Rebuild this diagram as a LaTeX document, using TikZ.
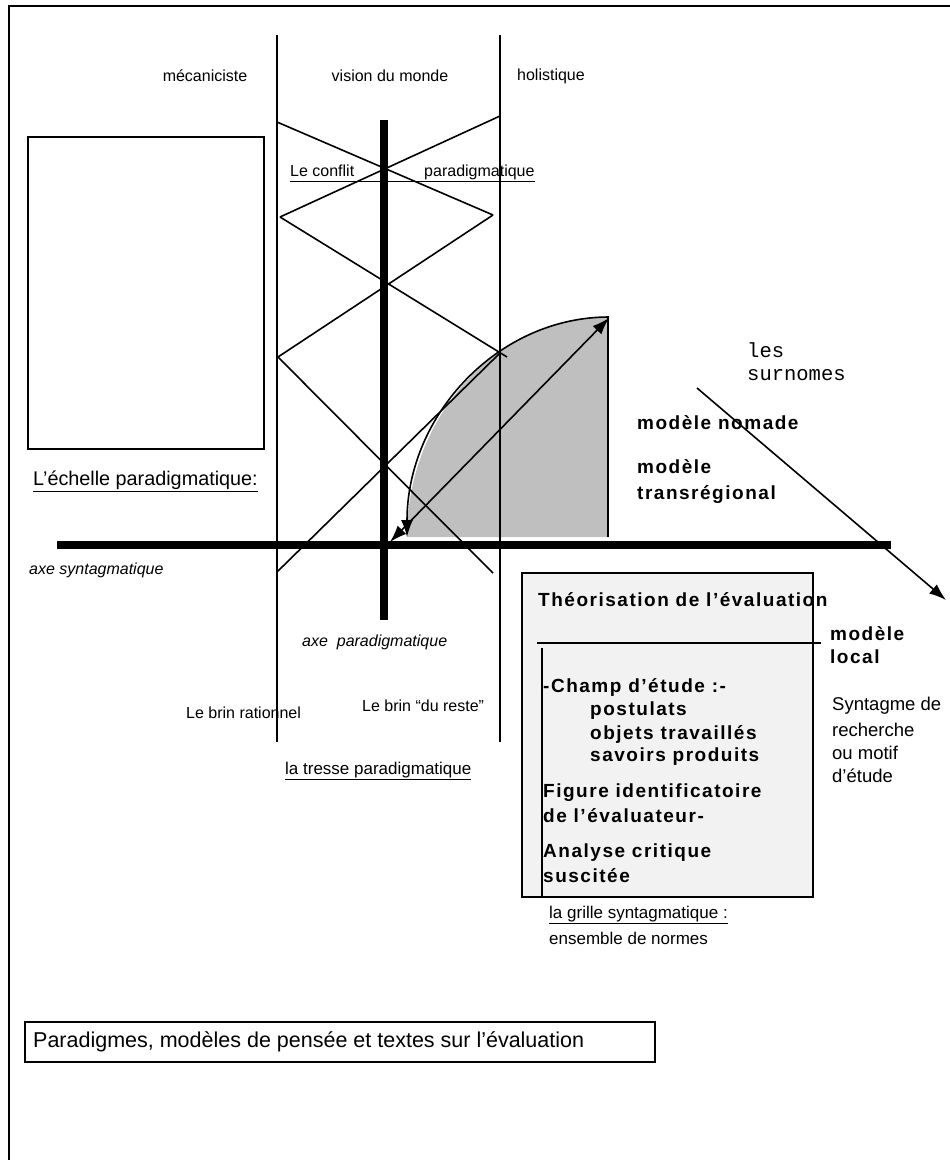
\documentclass[tikz,border=0pt]{standalone}
\usepackage{fontspec}
\setmainfont{Liberation Sans}
\newfontfamily\spaced[LetterSpace=8]{Liberation Sans}
\newfontfamily\courier{Liberation Mono}
\usetikzlibrary{arrows.meta}

\begin{document}
\begin{tikzpicture}[x=1pt,y=-1pt,
  strand/.style={line width=1.6pt},
  axisline/.style={line width=7.5pt},
  frameline/.style={line width=2.4pt},
  txt/.style={inner sep=0pt, anchor=west, font=\fontsize{16}{19}\selectfont},
  txtc/.style={inner sep=0pt, anchor=center, font=\fontsize{16}{19}\selectfont},
  mid/.style={inner sep=0pt, anchor=west, font=\fontsize{18.5}{23}\selectfont},
  bold/.style={inner sep=0pt, anchor=west, font=\spaced\bfseries\fontsize{19}{23}\selectfont},
  mono/.style={inner sep=0pt, anchor=west, font=\courier\fontsize{20.5}{25}\selectfont},
  bigtip/.style={-{Latex[length=17pt,width=12pt]}},
  shade/.style={fill=black!25},
  panel/.style={fill=black!5, draw, line width=2.4pt},
]
\useasboundingbox (0,0) rectangle (950,1160);

% outer frame, open at the right and at the bottom
\draw[frameline] (9,1160) -- (9,6) -- (950,6);

% empty frame on the left
\draw[frameline] (28,137) rectangle (264,449);

% shaded quarter-ellipse sector
\fill[shade] (609,317) .. controls (498,317) and (407,415) .. (407,537)
  -- (608,537) -- (608,317) -- cycle;
\draw[strand] (608,317) -- (608,537);

% the two strands of the braid
\coordinate (sLtop) at (277,35);  \coordinate (sLbot) at (277,742);
\coordinate (sRtop) at (500,35);  \coordinate (sRbot) at (500,742);
\draw[strand] (sLtop) -- (sLbot);
\draw[strand] (sRtop) -- (sRbot);

% zigzag crossing between the strands
\coordinate (z1) at (277,122);
\coordinate (z2) at (500,116);
\coordinate (z3) at (280,217);
\coordinate (z4) at (493,215);
\coordinate (z5) at (507,357);
\coordinate (z6) at (278,357);
\coordinate (z7) at (500,353);
\coordinate (z8) at (493,573);
\coordinate (z9) at (277,572);
\draw[strand] (z1) -- (z4);
\draw[strand] (z2) -- (z3);
\draw[strand] (z3) -- (z5);
\draw[strand] (z4) -- (z6);
\draw[strand] (z6) -- (z8);
\draw[strand] (z7) -- (z9);

% paradigmatic and syntagmatic axes
\coordinate (vTop) at (384,120); \coordinate (vBot) at (384,620);
\coordinate (hL) at (57,545);    \coordinate (hR) at (891,545);
\draw[axisline] (vTop) -- (vBot);
\draw[axisline] (hL) -- (hR);

% arrows of the sector
\coordinate (arcTop) at (609,317);
\coordinate (arcEnd) at (407,537);
\draw[strand, bigtip] (arcTop) .. controls (498,317) and (407,415) .. (arcEnd);
\coordinate (dA) at (390,542);
\coordinate (dB) at (609,318);
\draw[strand, {Latex[length=17pt,width=12pt]}-{Latex[length=17pt,width=12pt]}] (dA) -- (dB);

% arrow of the nicknames
\coordinate (nA) at (697,388);
\coordinate (nB) at (946,600);
\draw[strand, bigtip] (nA) -- (nB);

% world-view labels
\node[txtc] (meca) at (205,76) {mécaniciste};
\node[txtc] (vision) at (390,76) {vision du monde};
\node[txt] (holis) at (517,76) {holistique};

\node[txt] (conflit) at (290,173) {\underline{Le conflit\hspace{70pt}paradigmatique}};
\node[txt, font=\fontsize{19.8}{22}\selectfont] (echelle) at (33,481) {\underline{L’échelle paradigmatique:}};

\node[txt, font=\itshape\fontsize{16}{19}\selectfont] (axS) at (29,570) {axe syntagmatique};
\node[txt, font=\itshape\fontsize{16}{19}\selectfont] (axP) at (302,642) {axe\ \ paradigmatique};

\node[txt] (brinR) at (186,713) {Le brin rationnel};
\node[txt] (brinD) at (362,706) {Le brin “du reste”};
\node[txt, font=\fontsize{17}{20}\selectfont] (tresse) at (285,771) {\underline{la tresse paradigmatique}};

% nicknames and models
\node[mono] (les) at (747,350) {les};
\node[mono] (surn) at (747,375) {surnomes};
\node[bold] (nomade) at (637,423) {modèle nomade};
\node[bold] (trans1) at (637,467) {modèle};
\node[bold] (trans2) at (637,495) {transrégional};
\node[bold] (local1) at (830,634) {modèle};
\node[bold] (local2) at (830,657) {local};

\node[mid] (synt1) at (832,706) {Syntagme de};
\node[mid] (synt2) at (832,730) {recherche};
\node[mid] (synt3) at (832,753) {ou motif};
\node[mid] (synt4) at (832,776) {d’étude};

% syntagmatic grid panel
\draw[panel] (522,573) rectangle (813,897);
\coordinate (hlA) at (537,643); \coordinate (hlB) at (821,643);
\draw[strand] (hlA) -- (hlB);
\coordinate (vlA) at (542,648); \coordinate (vlB) at (542,897);
\draw[line width=2.2pt] (vlA) -- (vlB);

\node[bold] (theo) at (538,600) {Théorisation de l’évaluation};
\node[bold] (champ) at (543,687) {-Champ d’étude :-};
\node[bold] (post) at (590,711) {postulats};
\node[bold] (obj) at (590,734) {objets travaillés};
\node[bold] (sav) at (590,757) {savoirs produits};
\node[bold] (fig1) at (543,793) {Figure identificatoire};
\node[bold] (fig2) at (543,816) {de l’évaluateur-};
\node[bold] (ana1) at (543,853) {Analyse critique};
\node[bold] (ana2) at (543,876) {suscitée};

\node[txt, font=\fontsize{17}{20}\selectfont] (grille) at (549,915) {\underline{la grille syntagmatique :}};
\node[txt, font=\fontsize{17}{20}\selectfont] (normes) at (549,938) {ensemble de normes};

% caption box
\draw[frameline] (25,1022) rectangle (655,1062);
\node[txt, font=\fontsize{21.5}{24}\selectfont] (caption) at (33,1042) {Paradigmes, modèles de pensée et textes sur l’évaluation};
\end{tikzpicture}
\end{document}
